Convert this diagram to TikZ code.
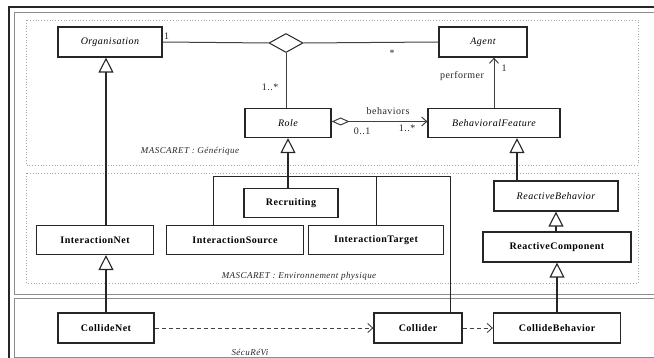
\documentclass[tikz,border=0pt]{standalone}
\usepackage{fontspec}
\setmainfont{Liberation Serif}[LetterSpace=5]
\usetikzlibrary{arrows.meta,shapes.geometric,calc}
\tikzset{
  cls/.style={draw=black!85, line width=1.2pt, fill=white, inner sep=0pt, minimum height=30pt, font=\fontsize{10}{12}\selectfont},
  icls/.style={cls, font=\fontsize{10}{12}\selectfont\itshape},
  bcls/.style={cls, font=\fontsize{10}{12}\selectfont\bfseries},
  conn/.style={draw=black!75, line width=1pt},
  gen/.style={draw=black!85, line width=1.1pt, -{Triangle[open, length=15pt, width=15pt, line width=1.1pt]}},
  dep/.style={draw=black!75, line width=0.9pt, dashed, dash pattern=on 4pt off 3pt, -{Straight Barb[length=5pt, width=9pt, line width=0.9pt]}},
  lbl/.style={font=\fontsize{10}{12}\selectfont, inner sep=0pt, text=black!85},
  pkg/.style={font=\fontsize{9}{11}\selectfont\itshape, inner sep=0pt, text=black!85},
  pkgbox/.style={draw=black!35, dotted, line width=0.8pt},
  frame/.style={draw=black!45, line width=0.9pt},
}
\begin{document}
\begin{tikzpicture}[x=1pt, y=-1pt]
\useasboundingbox (0,0) rectangle (654,358);
\clip (0,0) rectangle (654,358);
% frames
\draw[line width=1.3pt, black!85] (9,362) -- (9,7) -- (662,7);
\draw[frame] (662,12) -- (14,12) -- (14,294) -- (662,294);
\draw[frame] (662,298) -- (14,298) -- (14,357) -- (662,357);
\draw[pkgbox] (26,20) rectangle (638,165);
\draw[pkgbox] (26,173) rectangle (638,283);
\node[pkg] (pk1) at (190,151) {MASCARET : Générique};
\node[pkg] (pk2) at (299,276) {MASCARET : Environnement physique};
\node[pkg] (pk3) at (250,352) {SécuRéVi};
% classes
\node[icls, minimum width=104pt] (org) at (110,42) {Organisation};
\node[icls, minimum width=88pt] (agent) at (483,42) {Agent};
\node[draw=black!85, line width=1pt, fill=white, diamond, minimum width=34pt, minimum height=19pt, inner sep=0pt] (dia) at (286,43) {};
\node[icls, minimum width=86pt, minimum height=29pt] (role) at (288,123) {Role};
\node[icls, minimum width=132pt, minimum height=29pt] (bf) at (494,123) {BehavioralFeature};
\node[icls, minimum width=124pt] (rb) at (556,196) {ReactiveBehavior};
\node[bcls, minimum width=148pt] (rc) at (557,247) {ReactiveComponent};
\node[bcls, minimum width=94pt, minimum height=29pt] (rec) at (291,203) {Recruiting};
\node[bcls, minimum width=117pt, minimum height=29pt] (inet) at (95,240) {InteractionNet};
\node[bcls, minimum width=137pt, minimum height=29pt] (isrc) at (235,240) {InteractionSource};
\node[bcls, minimum width=135pt, minimum height=29pt] (itgt) at (376,240) {InteractionTarget};
\node[bcls, minimum width=96pt] (cnet) at (106,328) {CollideNet};
\node[bcls, minimum width=88pt] (coll) at (418,328) {Collider};
\node[bcls, minimum width=127pt] (cbeh) at (557,328) {CollideBehavior};
% association
\draw[conn] (org.east) -- (dia.west);
\draw[conn] (dia.east) -- (agent.west);
\draw[conn] (dia.south) -- (dia.south |- role.north);
\node[lbl, anchor=west] (m1) at (164,36) {1};
\node[lbl] (m2) at (392,53) {*};
\node[lbl] (m3) at (270,87) {1..*};
% behaviors aggregation
\draw[conn, {Diamond[open, length=18pt, width=8pt, line width=1pt]}-{Straight Barb[length=5pt, width=9pt, line width=1pt]}] ($(role.east)+(0,-1.5)$) -- ($(bf.west)+(0,-1.5)$);
\node[lbl] (l1) at (388,111) {behaviors};
\node[lbl] (l2) at (362,131) {0..1};
\node[lbl] (l3) at (407,128) {1..*};
% performer
\draw[conn, -{Straight Barb[length=5pt, width=9pt, line width=1pt]}] (bf.north) -- (bf.north |- agent.south);
\node[lbl] (l4) at (462,76) {performer};
\node[lbl] (l5) at (504,68) {1};
% generalizations
\coordinate (xb) at (517,0);
\draw[gen] (rb.north -| xb) -- (bf.south -| xb);
\draw[gen] (rc.north -| rb.south) -- (rb.south);
\draw[gen] (cbeh.north -| rc.south) -- (rc.south);
\draw[gen] (cnet.north) -- (cnet.north |- inet.south);
\draw[gen] (inet.north -| cnet) -- (org.south -| cnet);
% role tree
\coordinate (jl) at (213,177);
\coordinate (jr) at (450,177);
\draw[draw=black!85, line width=1pt] (isrc.north -| jl) -- (jl) -- (jr) -- (coll.north -| jr);
\draw[draw=black!85, line width=1pt] (itgt.north) -- (itgt.north |- jl);
\draw[gen, line width=1.6pt] (rec.north -| role.south) -- (role.south);
% dependencies
\draw[dep] (cnet.east) -- (coll.west);
\draw[dep] (coll.east) -- (cbeh.west);
\end{tikzpicture}
\end{document}
